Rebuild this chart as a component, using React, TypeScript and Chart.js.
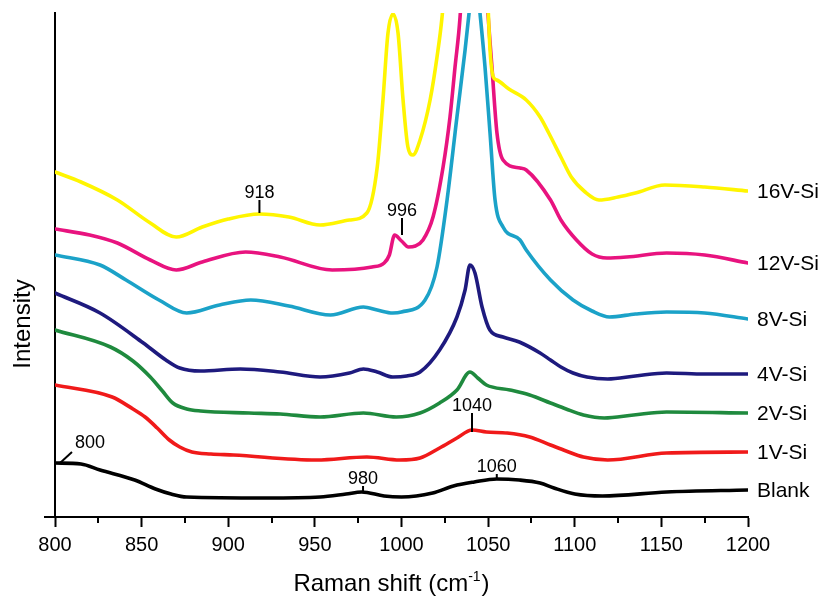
import React, { useEffect, useRef } from 'react';
import { Chart, registerables } from 'chart.js';

Chart.register(...registerables);

const FONT = '"Liberation Sans", Arial, Helvetica, sans-serif';

// ---- Data (Raman shift, cm-1 / intensity, arbitrary units) ----
const seriesNames = ['16V-Si', '12V-Si', '8V-Si', '4V-Si', '2V-Si', '1V-Si', 'Blank'];
const seriesColors = ['#FFF500', '#E8137F', '#1BA2C8', '#1E1A7E', '#1F8A3E', '#F01A1A', '#000000'];

const x16 = [800, 815, 836, 855, 870, 885, 900, 918, 935, 953, 970, 980, 986, 989.3, 992.2, 995.1, 998, 1000.9, 1003.7, 1006.6, 1010.7, 1016.5, 1020.5, 1023.4, 1028, 1035, 1040, 1045, 1049, 1051, 1053, 1055, 1062, 1072, 1080, 1085, 1092, 1098, 1106, 1114, 1125, 1135, 1152, 1175, 1200];
const y16 = [345, 335, 317, 294, 280, 290, 298, 303, 300, 292, 297, 304, 350, 417, 484, 503, 484, 417, 370, 362, 377, 417, 460, 500, 600, 800, 900, 800, 560, 470, 440, 437, 428, 417, 400, 384, 360, 340, 325, 317, 320, 324, 332, 330, 326];

const x12 = [800, 820, 836, 855, 870, 885, 910, 930, 960, 983, 990, 993, 996, 1000, 1004, 1008, 1012.4, 1018.2, 1024, 1028, 1030.9, 1033.8, 1037, 1041, 1045, 1049.9, 1052.2, 1055.1, 1058.6, 1068.4, 1072, 1086, 1092, 1101, 1110, 1118.6, 1130, 1153, 1175, 1200];
const y12 = [288, 282, 274, 257, 247, 255, 265, 260, 247, 250, 254, 262, 282, 276, 270, 271, 277, 300, 350, 400, 450, 500, 600, 750, 650, 504, 450, 384, 357, 349, 347, 317, 297, 277, 263, 259, 260, 264, 262, 254];

const x8 = [800, 826, 841, 860, 876, 895, 913, 935, 959, 978, 986, 995, 1000, 1013.6, 1020.5, 1026.3, 1032, 1036.7, 1039, 1042, 1045.3, 1048.2, 1051.1, 1054, 1058.6, 1068.4, 1072, 1086, 1099, 1110, 1120, 1135, 1153, 1175, 1200];
const y8 = [262, 252, 237, 217, 204, 212, 217, 211, 202, 210, 207, 204, 205, 217, 250, 317, 400, 467, 504, 560, 504, 450, 384, 317, 290, 277, 267, 237, 217, 206, 200, 203, 205, 204, 198];

const x4 = [800, 826, 851, 864, 872, 884, 907, 930, 953, 970, 978, 986, 995, 1003, 1010.7, 1022, 1032, 1036.7, 1039.5, 1042.4, 1046.5, 1051, 1058.6, 1068, 1080, 1086, 1092, 1099, 1107, 1119, 1135, 1153, 1175, 1200];
const y4 = [224, 204, 174, 157, 149, 146, 148, 145, 140, 144, 148, 145, 140, 141, 145, 167, 200, 227, 252, 244, 210, 187, 180, 175, 164, 157, 150, 144, 140, 138, 141, 144, 143, 143];

const x2 = [800, 832, 845, 855, 862, 868, 876, 884, 912, 930, 953, 978, 997, 1010.7, 1022, 1032, 1039.5, 1044, 1049, 1062.6, 1074, 1086, 1095, 1105, 1117, 1134, 1153, 1200];
const y2 = [187, 170, 156, 140, 126, 114, 108, 106, 104, 103, 100, 104, 100, 104, 114, 127, 145, 139, 132, 127, 122, 114, 108, 102, 99, 102, 105, 104];

const x1 = [800, 833, 845, 852, 859, 866, 872, 879, 890, 903, 951, 980, 999, 1010.7, 1022, 1032, 1040.7, 1049, 1061, 1074, 1086, 1095, 1105, 1119, 1153, 1200];
const y1 = [132, 120, 108, 100, 89, 77, 70, 65, 63, 62, 57, 60, 57, 59, 69, 79, 87, 85, 84, 80, 72, 66, 60, 57, 64, 65];

const xB = [800, 815, 826, 846, 858, 867, 876, 922, 953, 968, 977, 990, 1000, 1018, 1030, 1042, 1055, 1068, 1080, 1088, 1100, 1116, 1153, 1200];
const yB = [54, 53, 47, 37, 28, 23, 20, 19, 20, 23, 25, 21, 20, 24, 31, 35, 38, 37, 34, 29, 23, 21, 25, 27];

const seriesX = [x16, x12, x8, x4, x2, x1, xB];
const seriesY = [y16, y12, y8, y4, y2, y1, yB];

// x-axis ticks
const xMin = 800;
const xMax = 1200;
const xMajorStep = 50;
const xMinorTicks = [825, 875, 925, 975, 1025, 1075, 1125, 1175];

// peak annotations: label, tick from (annX0, annY0) to (annX1, annY1)
const annLabels = ['800', '918', '996', '980', '1040', '1060'];
const annX0 = [802.9, 918, 1000.3, 977.8, 1040.7, 1055];
const annY0 = [54, 304, 282, 24, 85, 38];
const annX1 = [809.8, 918, 1000.3, 977.8, 1040.7, 1055];
const annY1 = [65, 317, 299, 31, 104, 43];
const annAlign = ['left', 'center', 'center', 'center', 'center', 'center'];

const xTitleMain = 'Raman shift (cm';
const xTitleSup = '-1';
const xTitleEnd = ')';
const yTitle = 'Intensity';

const decorPlugin = {
  id: 'decor',
  afterDraw(chart: any) {
    const { ctx, chartArea, scales } = chart;
    const xs = scales.x;
    const ys = scales.y;
    ctx.save();
    ctx.strokeStyle = '#000';
    ctx.fillStyle = '#000';
    ctx.lineWidth = 2;
    // x-axis line extension to the left of the y axis
    ctx.beginPath();
    ctx.moveTo(chartArea.left - 11, chartArea.bottom);
    ctx.lineTo(chartArea.left, chartArea.bottom);
    ctx.stroke();
    // minor ticks
    xMinorTicks.forEach((v) => {
      const px = Math.round(xs.getPixelForValue(v));
      ctx.beginPath();
      ctx.moveTo(px, chartArea.bottom);
      ctx.lineTo(px, chartArea.bottom + 6);
      ctx.stroke();
    });
    // series labels at right end
    ctx.font = `21px ${FONT}`;
    ctx.textAlign = 'left';
    ctx.textBaseline = 'middle';
    seriesNames.forEach((name, i) => {
      const yArr = seriesY[i];
      const py = ys.getPixelForValue(yArr[yArr.length - 1]);
      ctx.fillText(name, chartArea.right + 9, py + 1);
    });
    // annotations
    ctx.font = `18px ${FONT}`;
    ctx.lineWidth = 2;
    annLabels.forEach((lab, i) => {
      const x0 = xs.getPixelForValue(annX0[i]);
      const y0 = ys.getPixelForValue(annY0[i]);
      const x1 = xs.getPixelForValue(annX1[i]);
      const y1 = ys.getPixelForValue(annY1[i]);
      ctx.beginPath();
      ctx.moveTo(x0, y0);
      ctx.lineTo(x1, y1);
      ctx.stroke();
      ctx.textBaseline = 'alphabetic';
      if (annAlign[i] === 'left') {
        ctx.textAlign = 'left';
        ctx.fillText(lab, x1 + 3, y1 - 4);
      } else {
        ctx.textAlign = 'center';
        ctx.fillText(lab, x1, y1 - 2);
      }
    });
    // x-axis title with superscript
    const bigFont = `24px ${FONT}`;
    const supFont = `14px ${FONT}`;
    ctx.font = bigFont;
    const w1 = ctx.measureText(xTitleMain).width;
    const w3 = ctx.measureText(xTitleEnd).width;
    ctx.font = supFont;
    const w2 = ctx.measureText(xTitleSup).width;
    const total = w1 + w2 + w3 + 1;
    const cx = (chartArea.left + chartArea.right) / 2 - 10;
    let sx = cx - total / 2;
    const by = 591;
    ctx.textAlign = 'left';
    ctx.textBaseline = 'alphabetic';
    ctx.font = bigFont;
    ctx.fillText(xTitleMain, sx, by);
    sx += w1;
    ctx.font = supFont;
    ctx.fillText(xTitleSup, sx, by - 10);
    sx += w2 + 1;
    ctx.font = bigFont;
    ctx.fillText(xTitleEnd, sx, by);
    // y-axis title
    ctx.translate(23, 324);
    ctx.rotate(-Math.PI / 2);
    ctx.font = bigFont;
    ctx.textAlign = 'center';
    ctx.textBaseline = 'middle';
    ctx.fillText(yTitle, 0, 0);
    ctx.restore();
  },
};

export default function App() {
  const canvasRef = useRef<HTMLCanvasElement | null>(null);

  useEffect(() => {
    const canvas = canvasRef.current;
    if (!canvas) return;
    const datasets = seriesNames.map((name, i) => ({
      label: name,
      data: seriesX[i].map((x, j) => ({ x, y: seriesY[i][j] })),
      borderColor: seriesColors[i],
      backgroundColor: seriesColors[i],
      borderWidth: 3.6,
      pointRadius: 0,
      cubicInterpolationMode: 'monotone' as const,
      fill: false,
      borderCapStyle: 'round' as const,
      borderJoinStyle: 'round' as const,
    }));
    const chart = new Chart(canvas, {
      type: 'line',
      data: { datasets },
      options: {
        animation: false,
        responsive: false,
        devicePixelRatio: 1,
        layout: { padding: { left: 55, right: 78, top: 13, bottom: 0 } },
        plugins: {
          legend: { display: false },
          tooltip: { enabled: false },
        },
        scales: {
          x: {
            type: 'linear',
            min: xMin,
            max: xMax,
            afterFit: (s: any) => {
              s.height = 82;
            },
            ticks: {
              stepSize: xMajorStep,
              color: '#000',
              padding: 6,
              maxRotation: 0,
              autoSkip: false,
              font: { family: FONT, size: 20 },
              callback: (v: any) => String(v),
            },
            grid: {
              display: true,
              drawOnChartArea: false,
              drawTicks: true,
              tickLength: 10,
              tickColor: '#000',
              tickWidth: 2,
            },
            border: { display: true, color: '#000', width: 2 },
          },
          y: {
            type: 'linear',
            min: 0,
            max: 504,
            afterFit: (s: any) => {
              s.width = 0;
            },
            ticks: { display: false },
            grid: { display: false, drawTicks: false },
            border: { display: true, color: '#000', width: 2 },
          },
        },
      },
      plugins: [decorPlugin],
    });
    return () => chart.destroy();
  }, []);

  return (
    <div style={{ position: 'fixed', left: 0, top: 0, width: 826, height: 599, background: '#fff' }}>
      <canvas ref={canvasRef} width={826} height={599} style={{ display: 'block' }} />
    </div>
  );
}
